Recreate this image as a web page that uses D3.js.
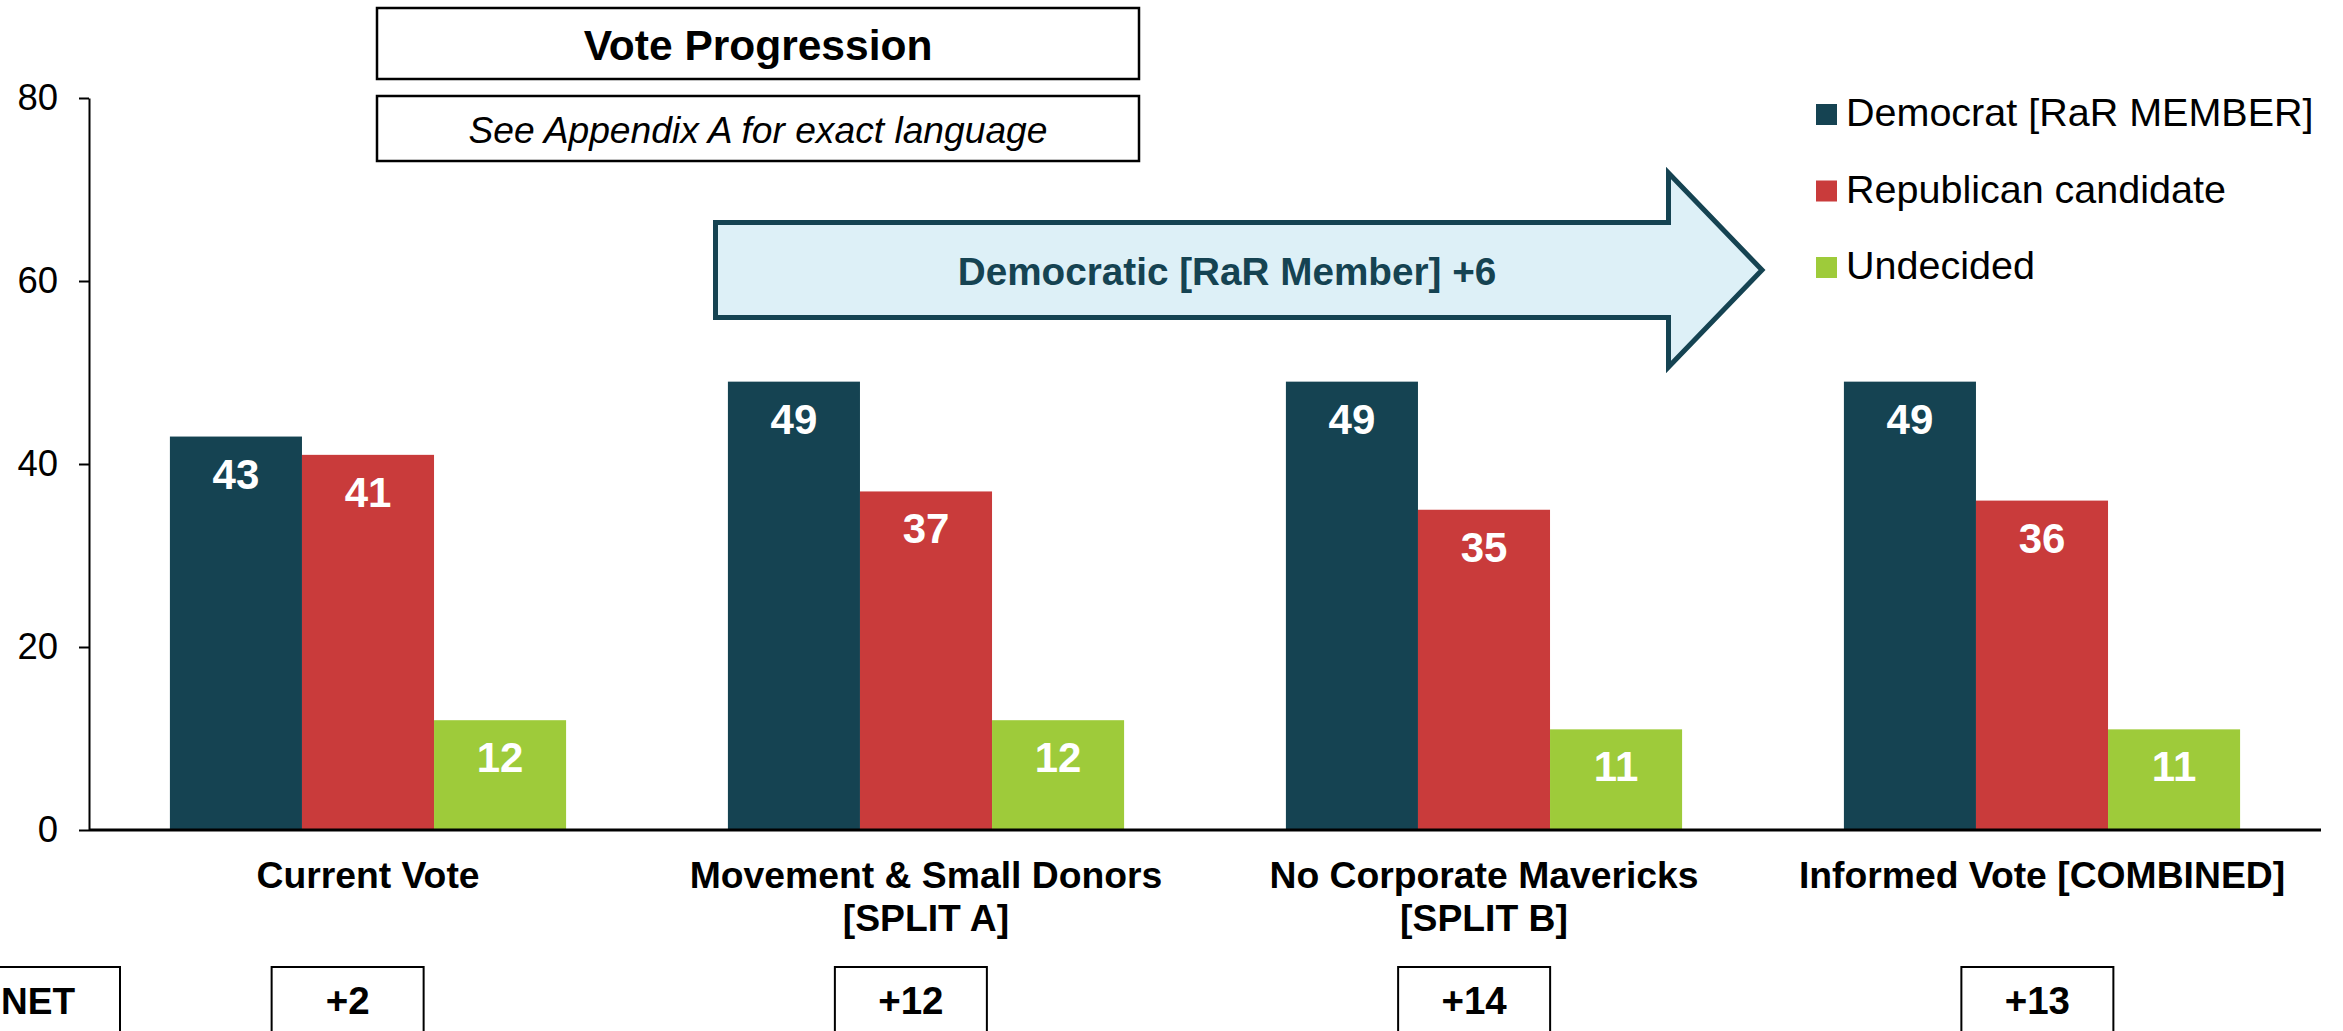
<!DOCTYPE html>
<html>
<head>
<meta charset="utf-8">
<script src="https://cdn.jsdelivr.net/npm/d3@7"></script>
<style>
  html, body { margin: 0; padding: 0; background: #ffffff; overflow: hidden; }
  svg { display: block; }
  text { font-family: "Liberation Sans", Arial, Helvetica, sans-serif; }
</style>
</head>
<body>
<svg id="chart" width="2343" height="1031"></svg>
<script>
// ---------------- DATA ----------------
const categories = [
  "Current Vote",
  "Movement & Small Donors\n[SPLIT A]",
  "No Corporate Mavericks\n[SPLIT B]",
  "Informed Vote [COMBINED]"
];
const seriesNames = ["Democrat [RaR MEMBER]", "Republican candidate", "Undecided"];
const democrat   = [43, 49, 49, 49];
const republican = [41, 37, 35, 36];
const undecided  = [12, 12, 11, 11];
const netLabels  = ["+2", "+12", "+14", "+13"];
const netHeader  = "NET";
const yTicks     = [0, 20, 40, 60, 80];
const titleText    = "Vote Progression";
const subtitleText = "See Appendix A for exact language";
const arrowText    = "Democratic [RaR Member] +6";

// ---------------- STYLE / LAYOUT ----------------
const colors = ["#154352", "#c93b3b", "#9ecb3a"];
const plot = { left: 89, right: 2321, top: 98, bottom: 830 };

const svg = d3.select("#chart");

const seriesValues = [democrat, republican, undecided];
const table = categories.map((c, i) => ({
  category: c,
  values: seriesNames.map((s, j) => ({ series: s, idx: j, value: seriesValues[j][i] }))
}));

// Scales
const x0 = d3.scaleBand()
  .domain(categories)
  .range([plot.left, plot.right])
  .paddingInner(0.29)
  .paddingOuter(0.145);
const x1 = d3.scaleBand()
  .domain(seriesNames)
  .range([0, x0.bandwidth()])
  .padding(0);
const y = d3.scaleLinear().domain([0, 80]).range([plot.bottom, plot.top]);
const color = d3.scaleOrdinal().domain(seriesNames).range(colors);

// NET row scale (boxes evenly spaced, slightly left of the groups)
const xNet = d3.scaleBand().domain(categories).range([66, 2319]).padding(0);

// ---------------- Y AXIS ----------------
const yAxis = d3.axisLeft(y)
  .tickValues(yTicks)
  .tickSize(10)
  .tickSizeOuter(0)
  .tickPadding(21)
  .tickFormat(d3.format("d"));
const gy = svg.append("g")
  .attr("transform", `translate(${plot.left},0)`)
  .call(yAxis);
gy.select(".domain").attr("stroke", "#000").attr("stroke-width", 2);
gy.selectAll(".tick line").attr("stroke", "#000").attr("stroke-width", 2);
gy.selectAll(".tick text")
  .attr("fill", "#000")
  .style("font-size", "36.5px")
  .style("font-family", "'Liberation Sans', Arial, sans-serif");

// ---------------- BARS ----------------
const groups = svg.append("g").selectAll("g")
  .data(table)
  .join("g")
  .attr("transform", d => `translate(${x0(d.category)},0)`);

groups.selectAll("rect")
  .data(d => d.values)
  .join("rect")
  .attr("x", d => x1(d.series))
  .attr("y", d => y(d.value))
  .attr("width", x1.bandwidth())
  .attr("height", d => y(0) - y(d.value))
  .attr("fill", d => color(d.series));

groups.selectAll("text.val")
  .data(d => d.values)
  .join("text")
  .attr("class", "val")
  .attr("x", d => x1(d.series) + x1.bandwidth() / 2)
  .attr("y", d => y(d.value) + 52)
  .attr("text-anchor", "middle")
  .attr("fill", "#ffffff")
  .style("font-size", "42px")
  .style("font-weight", "bold")
  .text(d => d.value);

// X baseline
svg.append("line")
  .attr("x1", plot.left).attr("x2", plot.right)
  .attr("y1", y(0)).attr("y2", y(0))
  .attr("stroke", "#000").attr("stroke-width", 3);

// Category labels
const catLabels = svg.append("g").selectAll("text")
  .data(categories)
  .join("text")
  .attr("text-anchor", "middle")
  .attr("fill", "#000")
  .style("font-size", "37.3px")
  .style("font-weight", "bold")
  .attr("transform", d => `translate(${x0(d) + x0.bandwidth() / 2},888)`);
catLabels.selectAll("tspan")
  .data(d => d.split("\n"))
  .join("tspan")
  .attr("x", 0)
  .attr("y", (d, i) => i * 43)
  .text(d => d);

// ---------------- NET ROW ----------------
const boxW = 152, boxTop = 967, boxH = 76;
svg.append("rect")
  .attr("x", -45).attr("y", boxTop).attr("width", 165).attr("height", boxH)
  .attr("fill", "#fff").attr("stroke", "#000").attr("stroke-width", 2);
svg.append("text")
  .attr("x", 1).attr("y", 1014)
  .attr("fill", "#000")
  .style("font-size", "37px").style("font-weight", "bold")
  .text(netHeader);

const netG = svg.append("g").selectAll("g")
  .data(categories.map((c, i) => ({ c, label: netLabels[i] })))
  .join("g")
  .attr("transform", d => `translate(${xNet(d.c) + xNet.bandwidth() / 2},0)`);
netG.append("rect")
  .attr("x", -boxW / 2).attr("y", boxTop).attr("width", boxW).attr("height", boxH)
  .attr("fill", "#fff").attr("stroke", "#000").attr("stroke-width", 2);
netG.append("text")
  .attr("x", 0).attr("y", 1014)
  .attr("text-anchor", "middle")
  .attr("fill", "#000")
  .style("font-size", "38.5px").style("font-weight", "bold")
  .text(d => d.label);

// ---------------- TITLE BOXES ----------------
svg.append("rect")
  .attr("x", 377).attr("y", 8).attr("width", 762).attr("height", 71)
  .attr("fill", "#fff").attr("stroke", "#000").attr("stroke-width", 2.5);
svg.append("text")
  .attr("x", 758).attr("y", 60)
  .attr("text-anchor", "middle").attr("fill", "#000")
  .style("font-size", "42.5px").style("font-weight", "bold")
  .text(titleText);

svg.append("rect")
  .attr("x", 377).attr("y", 96).attr("width", 762).attr("height", 65)
  .attr("fill", "#fff").attr("stroke", "#000").attr("stroke-width", 2.5);
svg.append("text")
  .attr("x", 758).attr("y", 143)
  .attr("text-anchor", "middle").attr("fill", "#000")
  .style("font-size", "37.2px").style("font-style", "italic")
  .text(subtitleText);

// ---------------- ARROW ANNOTATION ----------------
const arrow = { x0: 715.5, xHead: 1668.5, xTip: 1762, yTop: 222.5, yBot: 317.5, headTop: 173, headBot: 367 };
const yMid = (arrow.yTop + arrow.yBot) / 2;
const arrowPath = d3.path();
arrowPath.moveTo(arrow.x0, arrow.yTop);
arrowPath.lineTo(arrow.xHead, arrow.yTop);
arrowPath.lineTo(arrow.xHead, arrow.headTop);
arrowPath.lineTo(arrow.xTip, yMid);
arrowPath.lineTo(arrow.xHead, arrow.headBot);
arrowPath.lineTo(arrow.xHead, arrow.yBot);
arrowPath.lineTo(arrow.x0, arrow.yBot);
arrowPath.closePath();
svg.append("path")
  .attr("d", arrowPath.toString())
  .attr("fill", "#ddf0f7")
  .attr("stroke", "#154352")
  .attr("stroke-width", 5)
  .attr("stroke-linejoin", "miter");
svg.append("text")
  .attr("x", 1227).attr("y", 285)
  .attr("text-anchor", "middle")
  .attr("fill", "#154352")
  .style("font-size", "38.7px").style("font-weight", "bold")
  .text(arrowText);

// ---------------- LEGEND ----------------
const legend = svg.append("g").attr("transform", "translate(1816,0)");
const leg = legend.selectAll("g")
  .data(seriesNames)
  .join("g")
  .attr("transform", (d, i) => `translate(0,${104 + i * 76.5})`);
leg.append("rect")
  .attr("x", 0).attr("y", 0).attr("width", 21).attr("height", 21)
  .attr("fill", d => color(d));
leg.append("text")
  .attr("x", 30).attr("y", 22)
  .attr("fill", "#000")
  .style("font-size", "39.5px")
  .text(d => d);
</script>
</body>
</html>
